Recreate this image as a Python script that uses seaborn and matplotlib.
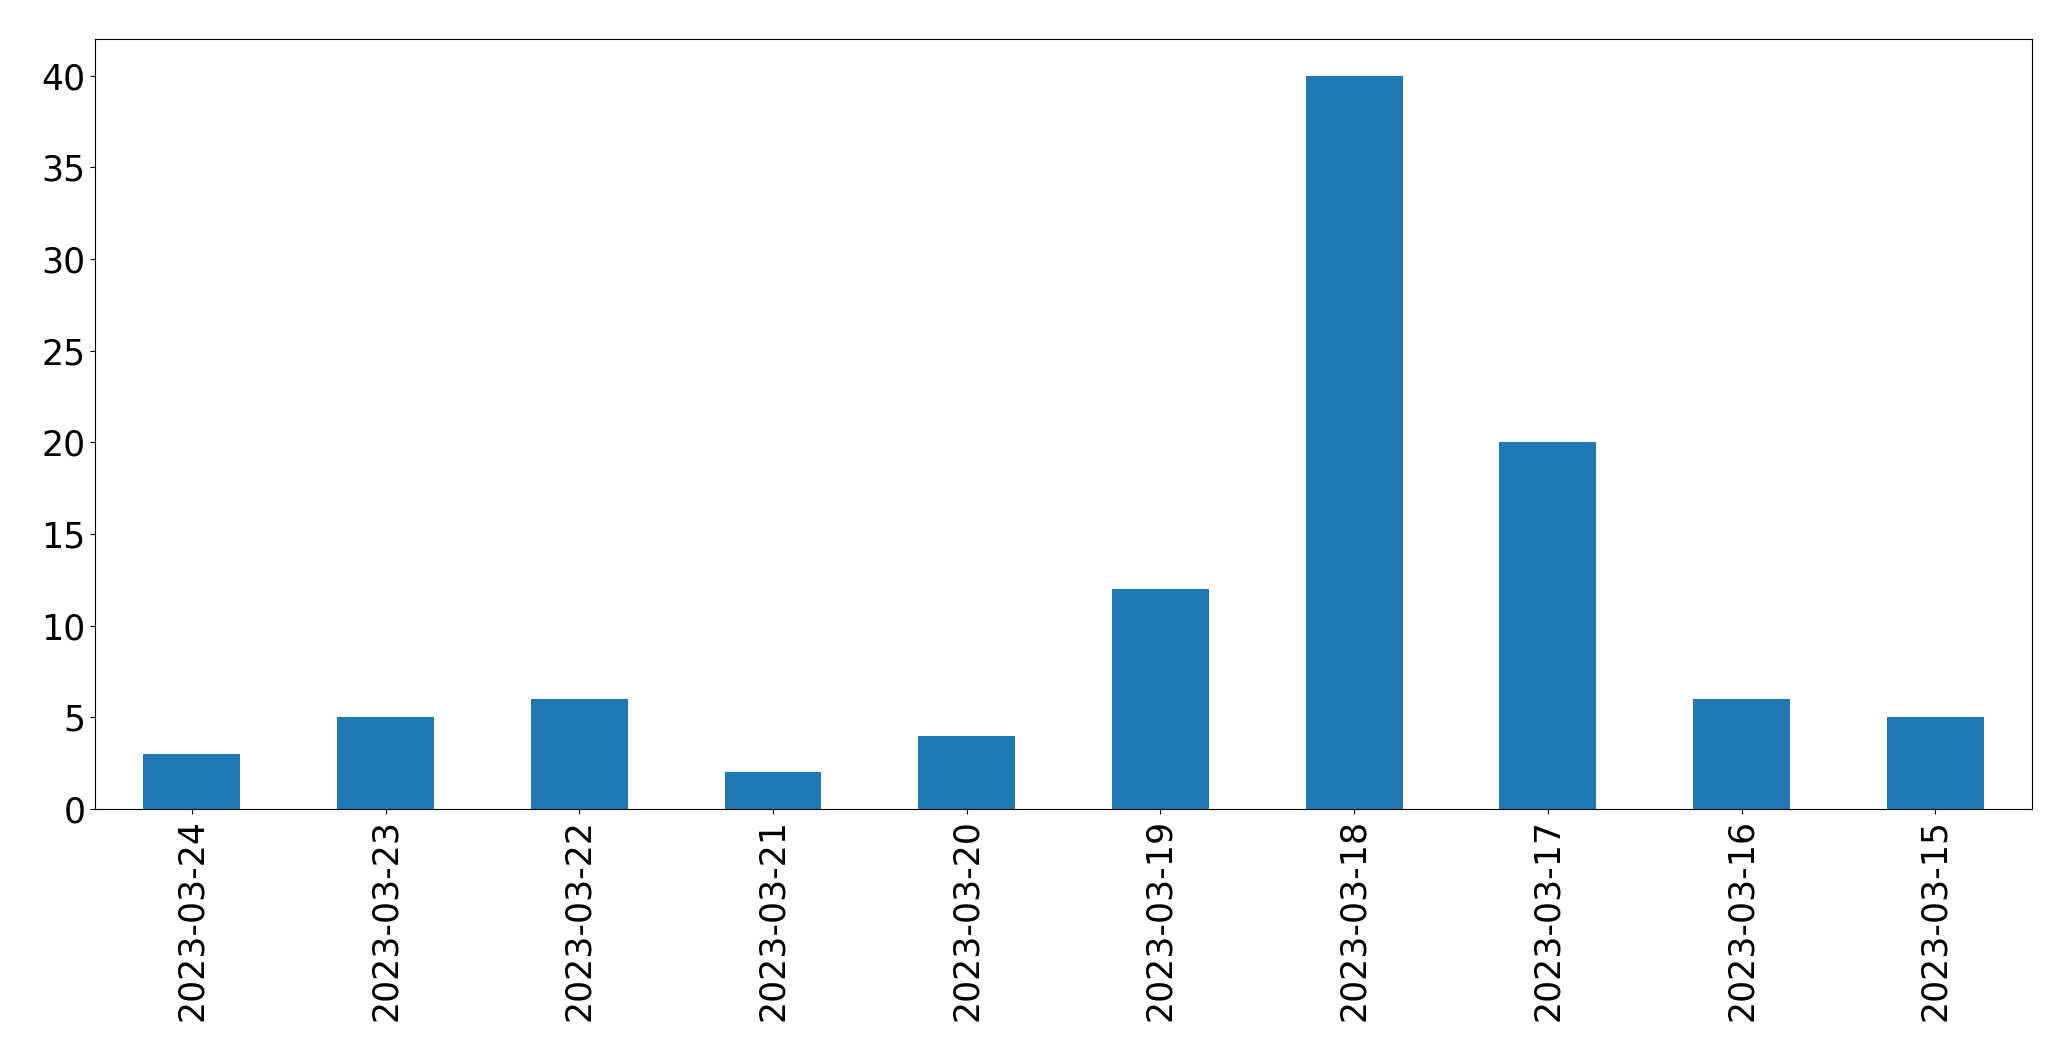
import matplotlib
matplotlib.use('Agg')
import matplotlib.pyplot as plt
import seaborn as sns
import pandas as pd

# Data
dates = ['2023-03-24', '2023-03-23', '2023-03-22', '2023-03-21', '2023-03-20',
         '2023-03-19', '2023-03-18', '2023-03-17', '2023-03-16', '2023-03-15']
counts = [3, 5, 6, 2, 4, 12, 40, 20, 6, 5]

df = pd.DataFrame({'date': dates, 'count': counts})

fig = plt.figure(figsize=(20.71, 10.61), dpi=100)
ax = fig.add_axes([0.0459, 0.2375, 0.9353, 0.7257])

sns.barplot(data=df, x='date', y='count', order=dates, color='#1f77b4',
            saturation=1, width=0.5, linewidth=0, ax=ax)

ax.set_xlim(-0.5, len(dates) - 0.5)
ax.set_ylim(0, 42)
ax.set_xlabel('')
ax.set_ylabel('')
ax.tick_params(axis='both', labelsize=25)
ax.tick_params(axis='x', labelrotation=90)

fig.savefig('out.png', dpi=100)
